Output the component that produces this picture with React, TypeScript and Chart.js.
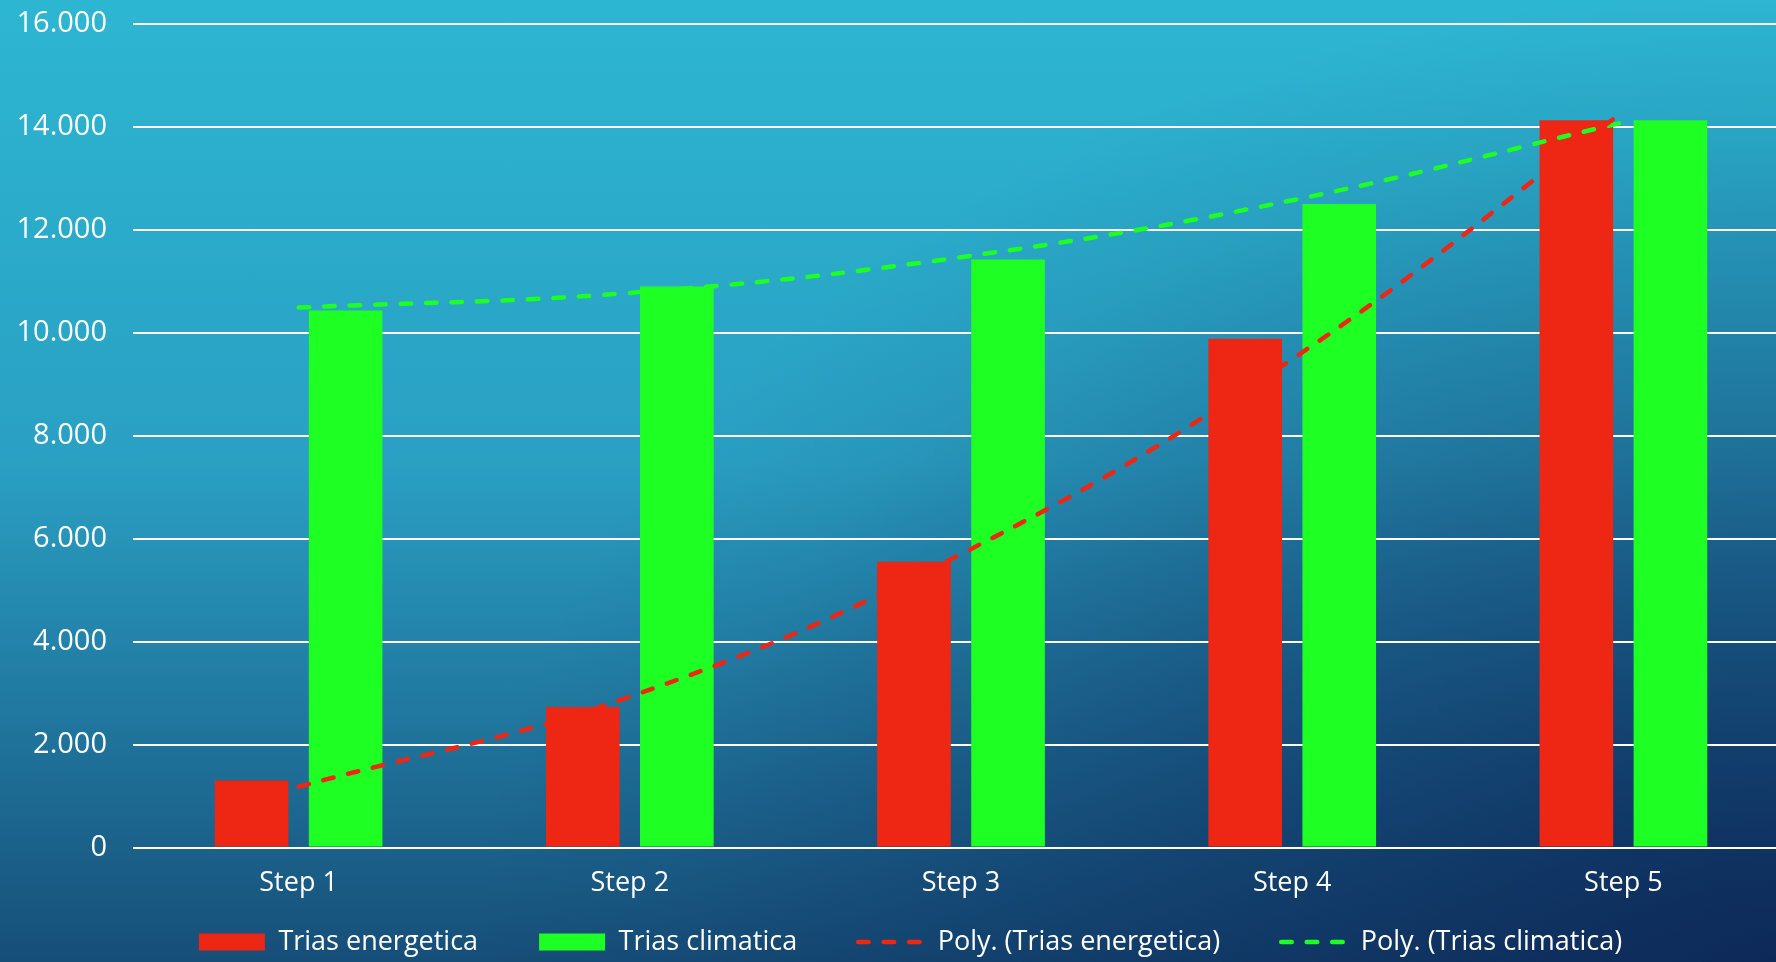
import React, { useEffect, useRef } from "react";
import { Chart, registerables } from "chart.js";

Chart.register(...registerables);

const categories = ["Step 1", "Step 2", "Step 3", "Step 4", "Step 5"];
const triasEnergetica = [1300, 2730, 5550, 9885, 14130];
const triasClimatica = [10435, 10900, 11425, 12505, 14130];
const polyEnergetica = [1180, 2930, 5700, 9490, 14300];
const polyClimatica = [10490, 10775, 11470, 12575, 14090];
const seriesLabels = [
  "Trias energetica",
  "Trias climatica",
  "Poly. (Trias energetica)",
  "Poly. (Trias climatica)",
];
const yMin = 0;
const yMax = 16000;
const yStep = 2000;

const RED = "#EE2614";
const GREEN = "#1EFF24";
const FONT = "'Open Sans', 'Liberation Sans', sans-serif";

const formatThousands = (v: number) =>
  String(v).replace(/\B(?=(\d{3})+(?!\d))/g, ".");

const layoutFix = {
  id: "layoutFix",
  beforeLayout(chart: any) {
    const lg = chart.legend;
    if (lg && !lg._patched) {
      const orig = lg.fit.bind(lg);
      lg.fit = function () {
        orig();
        this.height = 62.5;
      };
      lg._patched = true;
    }
  },
  afterLayout(chart: any) {
    const lg = chart.legend;
    if (!lg) return;
    const H = chart.height;
    const top = 942 - 13.5 - 61;
    lg.top = top;
    lg.bottom = H;
    lg.height = H - top;
    lg.left += 16;
    lg.right += 16;
  },
};

export default function App() {
  const ref = useRef<HTMLCanvasElement | null>(null);

  useEffect(() => {
    if (!ref.current) return;
    const chart = new Chart(ref.current, {
      type: "bar",
      data: {
        labels: categories,
        datasets: [
          {
            type: "bar",
            label: seriesLabels[0],
            data: triasEnergetica,
            backgroundColor: RED,
            borderWidth: 0,
            pointStyle: "rect",
            order: 1,
            barPercentage: 0.783,
            categoryPercentage: 0.568,
          } as any,
          {
            type: "bar",
            label: seriesLabels[1],
            data: triasClimatica,
            backgroundColor: GREEN,
            borderWidth: 0,
            pointStyle: "rect",
            order: 1,
            barPercentage: 0.783,
            categoryPercentage: 0.568,
          } as any,
          {
            type: "line",
            label: seriesLabels[2],
            data: polyEnergetica,
            borderColor: RED,
            backgroundColor: RED,
            borderWidth: 4.5,
            borderDash: [10.5, 15],
            borderCapStyle: "round",
            pointRadius: 0,
            pointStyle: "line",
            tension: 0.4,
            fill: false,
            order: 0,
          } as any,
          {
            type: "line",
            label: seriesLabels[3],
            data: polyClimatica,
            borderColor: GREEN,
            backgroundColor: GREEN,
            borderWidth: 4.5,
            borderDash: [10.5, 15],
            borderCapStyle: "round",
            pointRadius: 0,
            pointStyle: "line",
            tension: 0.4,
            fill: false,
            order: 0,
          } as any,
        ],
      },
      options: {
        responsive: false,
        animation: false,
        devicePixelRatio: 1,
        layout: { padding: { top: 24, left: 0, right: 0, bottom: 0 } },
        plugins: {
          tooltip: { enabled: false },
          title: { display: false },
          legend: {
            display: true,
            position: "bottom",
            labels: {
              usePointStyle: true,
              pointStyleWidth: 66,
              boxHeight: 17,
              padding: 61,
              color: "#FFFFFF",
              font: { family: FONT, size: 27 },
              generateLabels: (ch: any) =>
                ch.data.datasets.map((ds: any, i: number) => {
                  const isLine = ds.type === "line";
                  return {
                    text: ds.label,
                    fillStyle: isLine ? "rgba(0,0,0,0)" : ds.backgroundColor,
                    strokeStyle: isLine ? ds.borderColor : ds.backgroundColor,
                    lineWidth: isLine ? ds.borderWidth : 0,
                    lineDash: isLine ? ds.borderDash : [],
                    lineCap: isLine ? "round" : "butt",
                    pointStyle: isLine ? "line" : "rect",
                    fontColor: "#FFFFFF",
                    hidden: false,
                    datasetIndex: i,
                  };
                }),
            },
          },
        },
        scales: {
          x: {
            type: "category",
            grid: { display: false, drawTicks: false },
            border: { display: false },
            ticks: {
              color: "#FFFFFF",
              font: { family: FONT, size: 27 },
              padding: 20,
              maxRotation: 0,
            },
            afterFit: (s: any) => {
              s.height = 52;
            },
          },
          y: {
            type: "linear",
            min: yMin,
            max: yMax,
            grid: { color: "#FFFFFF", lineWidth: 2, drawTicks: false },
            border: { display: false },
            ticks: {
              stepSize: yStep,
              color: "#FFFFFF",
              font: { family: FONT, size: 29 },
              padding: 26,
              callback: (v: any) => formatThousands(Number(v)),
            },
            afterFit: (s: any) => {
              s.width = 133;
              s.paddingTop = 0;
              s.paddingBottom = 0;
            },
          },
        },
      },
      plugins: [layoutFix],
    });
    return () => chart.destroy();
  }, []);

  return (
    <div
      style={{
        position: "fixed",
        left: 0,
        top: 0,
        width: 1776,
        height: 962,
        overflow: "hidden",
        backgroundColor: "#2392b4",
        backgroundImage:
          "radial-gradient(ellipse 80% 110% at 100% 100%, rgba(10,30,80,0.78) 0%, rgba(10,30,80,0.4) 45%, rgba(10,30,80,0.08) 78%, rgba(10,30,80,0) 92%), linear-gradient(to bottom, rgb(45,182,210) 0%, rgb(42,168,200) 30%, rgb(42,160,195) 48%, rgb(32,118,158) 75%, rgb(22,78,120) 100%)",
      }}
    >
      <canvas
        ref={ref}
        width={1789}
        height={962}
        style={{ display: "block", width: 1789, height: 962 }}
      />
    </div>
  );
}
